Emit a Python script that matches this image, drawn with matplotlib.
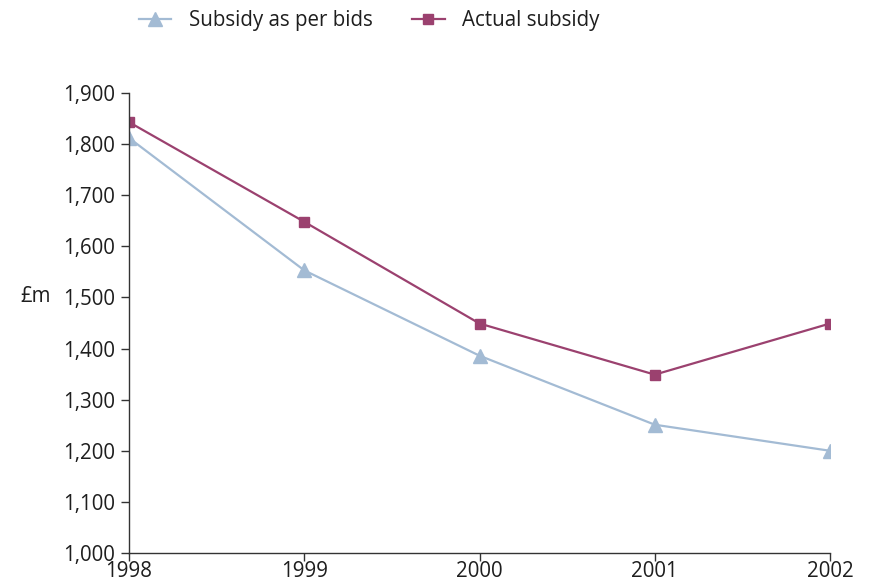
#!/usr/bin/env python3
import matplotlib
matplotlib.use("Agg")
import matplotlib.pyplot as plt

#-DATA------------------------------------------------------------------------#
years = [1998, 1999, 2000, 2001, 2002]
bids_subsidy = [1812, 1553, 1386, 1251, 1200]
actual_subsidy = [1843, 1648, 1449, 1349, 1449]
labels = ["Subsidy as per bids", "Actual subsidy"]
y_ticks = list(range(1000, 2000, 100))
#-END-DATA--------------------------------------------------------------------#

plt.rcParams['font.family'] = ['Open Sans', 'DejaVu Sans']
plt.rcParams['font.weight'] = 'normal'

blue = '#a3bbd4'
plum = '#9b416f'
text_col = '#1e1e1e'
fsize = 14.8

fig = plt.figure(figsize=(8.76, 5.85), dpi=100)
ax = fig.add_axes([0.1473, 0.0547, 0.8002, 0.7863])

ax.plot(years, bids_subsidy, color=blue, lw=1.6, marker='^', ms=9.5,
        label=labels[0])
ax.plot(years, actual_subsidy, color=plum, lw=1.6, marker='s', ms=7.5,
        label=labels[1])

ax.set_xlim(years[0], years[-1])
ax.set_ylim(1000, 1900)
ax.set_xticks(years)
ax.set_yticks(y_ticks)
ax.set_yticklabels([f"{v:,}" for v in y_ticks])

for side in ('top', 'right'):
    ax.spines[side].set_visible(False)
for side in ('left', 'bottom'):
    ax.spines[side].set_color('#333333')
    ax.spines[side].set_linewidth(1.0)
ax.tick_params(axis='both', labelsize=fsize, colors='#333333',
               length=6, width=1.0)
ax.tick_params(axis='x', pad=0, labelcolor=text_col)
ax.tick_params(axis='y', pad=4, labelcolor=text_col)

fig.text(20 / 876, 1 - 297 / 585, "£m", fontsize=fsize, color=text_col,
         ha='left', va='center')

leg = fig.legend(loc='upper left', bbox_to_anchor=(0.137, 1.015), ncol=2,
                 frameon=False, fontsize=fsize, handlelength=1.6,
                 columnspacing=1.9, handletextpad=0.85)
for t in leg.get_texts():
    t.set_color(text_col)

fig.savefig("out.png", dpi=100)
